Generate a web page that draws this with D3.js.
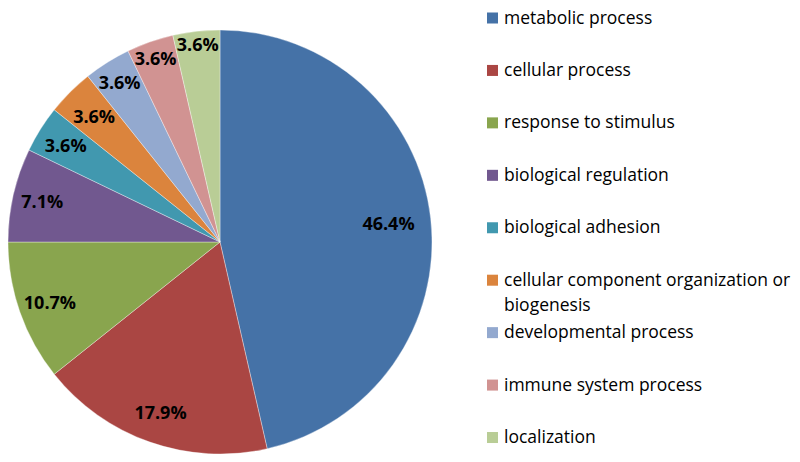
<!DOCTYPE html>
<html>
<head>
<meta charset="utf-8">
<script src="https://cdn.jsdelivr.net/npm/d3@7"></script>
<style>
  html, body { margin: 0; padding: 0; background: #fff; }
  svg { display: block; }
</style>
</head>
<body>
<svg id="chart" width="800" height="462"></svg>
<script>
const categories = [
  "metabolic process",
  "cellular process",
  "response to stimulus",
  "biological regulation",
  "biological adhesion",
  "cellular component organization or biogenesis",
  "developmental process",
  "immune system process",
  "localization"
];
const counts = [13, 5, 3, 2, 1, 1, 1, 1, 1];
const colors = ["#4572A7", "#AA4643", "#89A54E", "#71588F", "#4198AF",
                "#DB843D", "#93A9CF", "#D19392", "#B9CD96"];
// label distance from centre as a fraction of radius (layout only)
const labelRadiusFactor = [0.80, 0.85, 0.85, 0.86, 0.86, 0.84, 0.89, 0.92, 0.94];

const svg = d3.select("#chart");
const cx = 220, cy = 242, R = 212;

const total = d3.sum(counts);
const pie = d3.pie().sort(null).value(d => d)
  .startAngle(0).endAngle(2 * Math.PI);
const arcs = pie(counts);
const arc = d3.arc().innerRadius(0).outerRadius(R);

const g = svg.append("g").attr("transform", `translate(${cx},${cy})`);

g.selectAll("path.slice")
  .data(arcs)
  .enter().append("path")
  .attr("class", "slice")
  .attr("d", arc)
  .attr("fill", (d, i) => colors[i])
  .attr("stroke", "rgba(255,255,255,0.5)")
  .attr("stroke-width", 0.7);

const fmt = d3.format(".1%");
g.selectAll("text.lbl")
  .data(arcs)
  .enter().append("text")
  .attr("class", "lbl")
  .attr("x", (d, i) => Math.sin((d.startAngle + d.endAngle) / 2) * R * labelRadiusFactor[i])
  .attr("y", (d, i) => -Math.cos((d.startAngle + d.endAngle) / 2) * R * labelRadiusFactor[i])
  .attr("text-anchor", "middle")
  .attr("dominant-baseline", "central")
  .attr("font-family", "'Open Sans', sans-serif")
  .attr("font-weight", "bold")
  .attr("font-size", "18px")
  .attr("fill", "#000")
  .text(d => fmt(d.value / total));

// Legend
const legendX = 487, legendY0 = 18, legendStep = 52.44;
const wrapWidth = 800 - 504 - 4;
const leg = svg.append("g");
const items = leg.selectAll("g.item")
  .data(categories)
  .enter().append("g")
  .attr("class", "item")
  .attr("transform", (d, i) => `translate(${legendX},${legendY0 + i * legendStep})`);

items.append("rect")
  .attr("x", 0).attr("y", -5.5)
  .attr("width", 11).attr("height", 11)
  .attr("fill", (d, i) => colors[i]);

items.each(function(d) {
  const t = d3.select(this).append("text")
    .attr("x", 17).attr("y", 5.5)
    .attr("font-family", "'Open Sans', sans-serif")
    .attr("font-size", "17.5px")
    .attr("fill", "#000");
  const words = d.split(" ");
  let line = [];
  let tspan = t.append("tspan").attr("x", 17).attr("dy", 0);
  for (const w of words) {
    line.push(w);
    tspan.text(line.join(" "));
    if (tspan.node().getComputedTextLength() > wrapWidth && line.length > 1) {
      line.pop();
      tspan.text(line.join(" "));
      line = [w];
      tspan = t.append("tspan").attr("x", 17).attr("dy", 25).text(w);
    }
  }
});
</script>
</body>
</html>
